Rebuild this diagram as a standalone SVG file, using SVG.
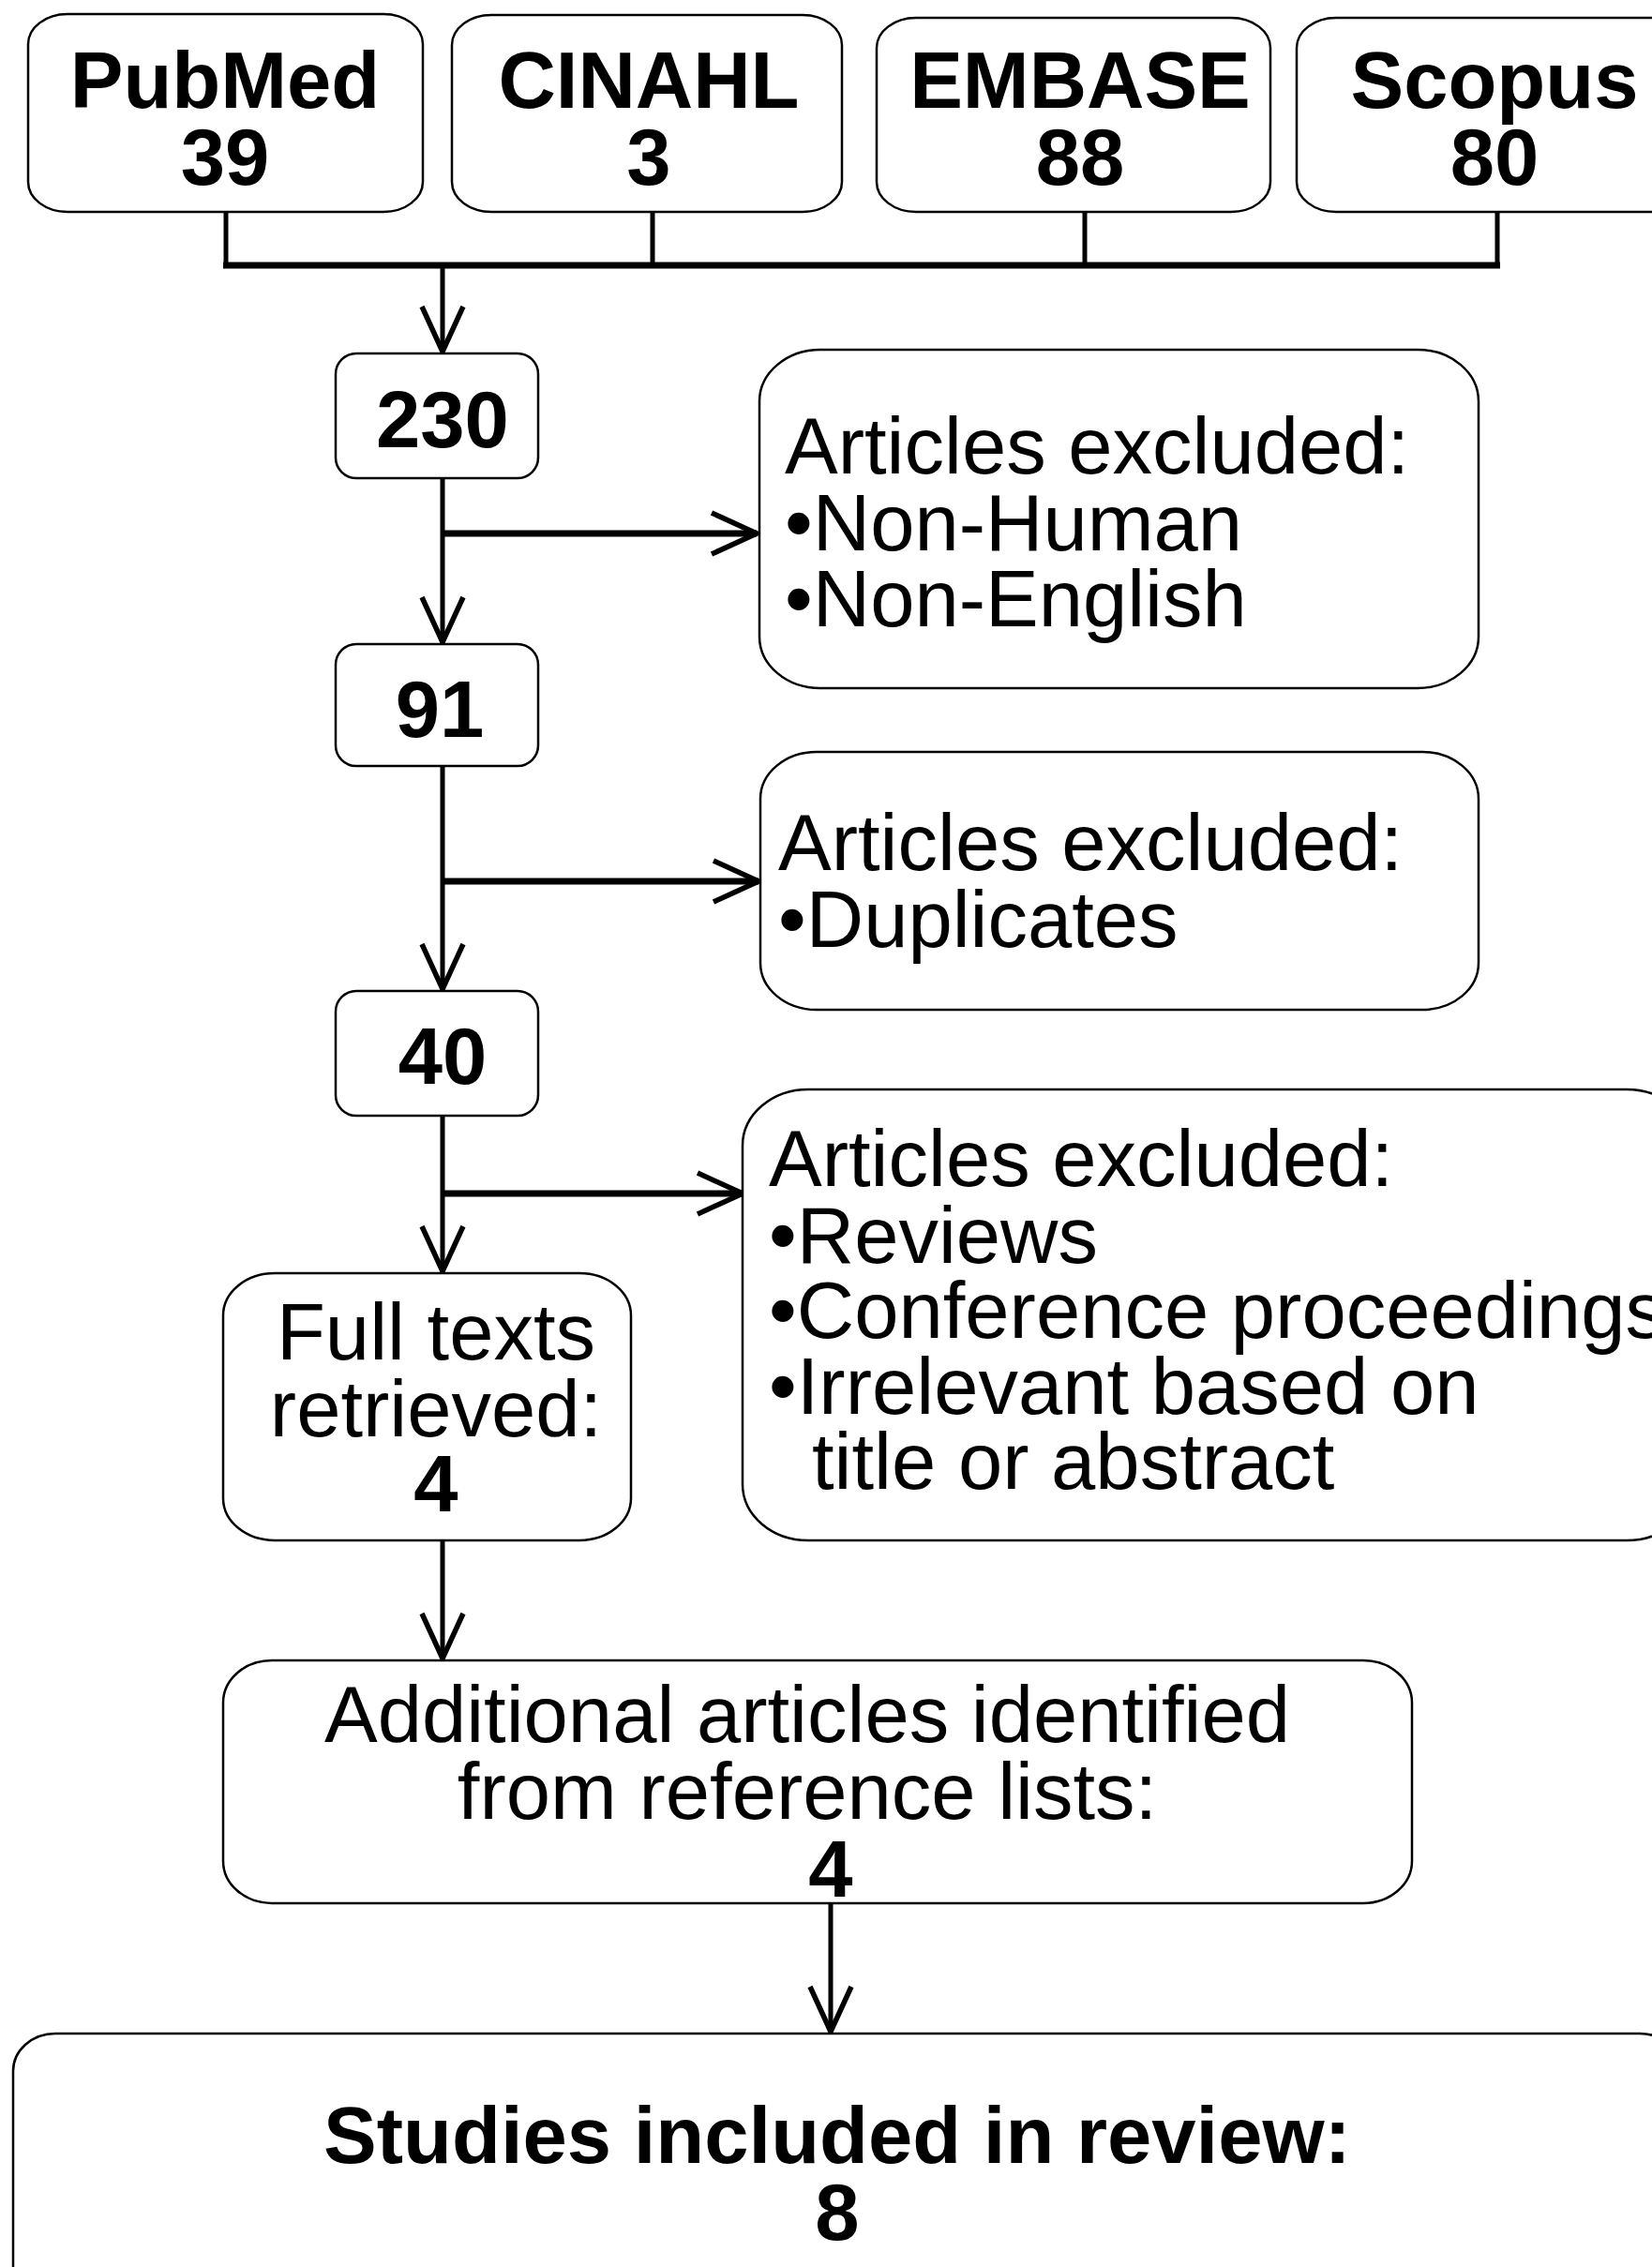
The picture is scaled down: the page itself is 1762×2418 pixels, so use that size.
<svg xmlns="http://www.w3.org/2000/svg" width="1762" height="2418" viewBox="0 0 1762 2418">
<style>
.box{fill:#fff;stroke:#000;stroke-width:2.5}
text{font-family:"Liberation Sans",Arial,sans-serif;font-size:85px;fill:#000}
.b{font-weight:bold}
.c{text-anchor:middle}
.v{fill:none;stroke:#000;stroke-width:5}
.h{fill:none;stroke:#000;stroke-width:7}
</style>
<defs>
<marker id="arr" markerUnits="userSpaceOnUse" viewBox="-3 -3 54 50" markerWidth="54" markerHeight="50" refX="48" refY="22" orient="auto">
<path d="M0,0 L48,22 L0,44" fill="none" stroke="#000" stroke-width="5.5"/>
</marker>
</defs>
<rect width="1762" height="2418" fill="#fff"/>
<g id="connectors">
<path class="v" d="M241,226 V283 M696,226 V283 M1157,226 V283 M1597,226 V283"/>
<path class="h" d="M238,283 H1600"/>
<path class="v" d="M472,283 V375" marker-end="url(#arr)"/>
<path class="v" d="M472,510 V685" marker-end="url(#arr)"/>
<path class="h" d="M472,569 H807" marker-end="url(#arr)"/>
<path class="v" d="M472,817 V1055" marker-end="url(#arr)"/>
<path class="h" d="M472,940 H809" marker-end="url(#arr)"/>
<path class="v" d="M472,1190 V1356" marker-end="url(#arr)"/>
<path class="h" d="M472,1273 H792" marker-end="url(#arr)"/>
<path class="v" d="M472,1643 V1769" marker-end="url(#arr)"/>
<path class="v" d="M886,2030 V2167" marker-end="url(#arr)"/>
</g>
<g id="pubmed">
<rect class="box" x="30" y="15" width="421" height="211" rx="42" ry="32"/>
<text class="b c" x="240" y="115">PubMed</text>
<text class="b c" x="240" y="197">39</text>
</g>
<g id="cinahl">
<rect class="box" x="482" y="16" width="416" height="210" rx="42" ry="32"/>
<text class="b c" x="692" y="115">CINAHL</text>
<text class="b c" x="692" y="197">3</text>
</g>
<g id="embase">
<rect class="box" x="935" y="19" width="420" height="207" rx="42" ry="32"/>
<text class="b c" x="1152" y="115">EMBASE</text>
<text class="b c" x="1152" y="197">88</text>
</g>
<g id="scopus">
<rect class="box" x="1383" y="19" width="424" height="207" rx="42" ry="32"/>
<text class="b c" x="1594" y="115">Scopus</text>
<text class="b c" x="1594" y="197">80</text>
</g>
<g id="n230">
<rect class="box" x="358" y="377" width="216" height="133" rx="22" ry="22"/>
<text class="b c" x="472" y="477">230</text>
</g>
<g id="excl1">
<rect class="box" x="810" y="373" width="767" height="361" rx="65" ry="55"/>
<text x="837" y="505">Articles excluded:</text>
<text x="837" y="587">•Non-Human</text>
<text x="837" y="668">•Non-English</text>
</g>
<g id="n91">
<rect class="box" x="358" y="687" width="216" height="130" rx="22" ry="22"/>
<text class="b c" x="469" y="786">91</text>
</g>
<g id="excl2">
<rect class="box" x="811" y="802" width="766" height="275" rx="60" ry="50"/>
<text x="830" y="928">Articles excluded:</text>
<text x="830" y="1010">•Duplicates</text>
</g>
<g id="n40">
<rect class="box" x="358" y="1057" width="216" height="133" rx="22" ry="22"/>
<text class="b c" x="472" y="1156">40</text>
</g>
<g id="excl3">
<rect class="box" x="792" y="1162" width="1013" height="481" rx="70" ry="60"/>
<text x="820" y="1265">Articles excluded:</text>
<text x="820" y="1347">•Reviews</text>
<text x="820" y="1427">•Conference proceedings</text>
<text x="820" y="1508">•Irrelevant based on</text>
<text x="866" y="1588">title or abstract</text>
</g>
<g id="fulltexts">
<rect class="box" x="238" y="1358" width="435" height="285" rx="55" ry="45"/>
<text class="c" x="465" y="1450">Full texts</text>
<text class="c" x="465" y="1532">retrieved:</text>
<text class="b c" x="465" y="1612">4</text>
</g>
<g id="additional">
<rect class="box" x="238" y="1771" width="1268" height="259" rx="52" ry="45"/>
<text class="c" x="861" y="1858">Additional articles identified</text>
<text class="c" x="861" y="1940">from reference lists:</text>
<text class="b c" x="886" y="2023">4</text>
</g>
<g id="included">
<rect class="box" x="14" y="2169" width="1780" height="320" rx="45" ry="40"/>
<text class="b c" x="893" y="2307">Studies included in review:</text>
<text class="b c" x="893" y="2389">8</text>
</g>
</svg>
